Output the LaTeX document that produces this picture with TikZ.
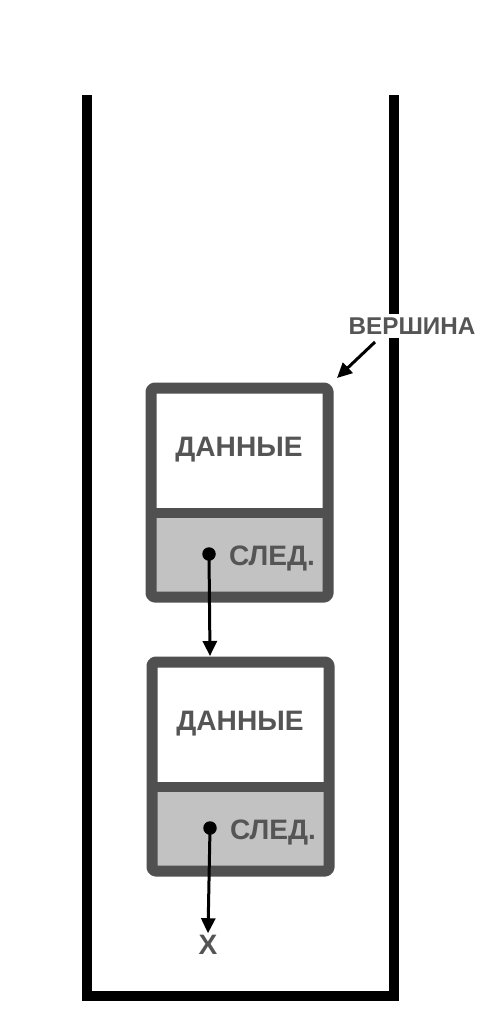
\documentclass[tikz,border=0pt]{standalone}
\usepackage{fontspec}
\usetikzlibrary{arrows.meta}
\setmainfont{Liberation Sans}
\definecolor{rim}{HTML}{505050}
\definecolor{cellgray}{HTML}{C2C2C2}
\definecolor{ink}{HTML}{555555}
\begin{document}
\begin{tikzpicture}[x=0.02cm, y=-0.02cm, line join=round, >={Triangle[length=0.3cm, width=0.28cm]}, font=\bfseries, text=ink]
	\def\w{177}
	\def\h{209}
	\def\d{125}
	\tikzset{lbl/.style={inner sep=1pt, font=\fontsize{16}{18}\selectfont\bfseries},
		link/.style={->, line width=0.06cm},
		cell/.pic={
			\fill[cellgray] (0,\d) rectangle (\w,\h);
			\draw[rim, line width=0.2cm] (0,\d) -- (\w,\d);
			\draw[rim, line width=0.22cm, rounded corners=2pt] (0,0) rectangle (\w,\h);
			\node[lbl] (-data) at (88,62) {ДАННЫЕ};
			\node[lbl] (-next) at (121,170) {СЛЕД.};
			\node[circle, fill=black, inner sep=0pt, minimum size=0.27cm] (-dot) at (58,166) {};
			\coordinate (-top) at (58,-6);
			\coordinate (-corner) at (186,-10);
	}}
	\useasboundingbox (0,0) rectangle (503,1017);
	% stack walls
	\draw[line width=0.2cm, line join=miter] (87,95) -- (87,996) -- (394,996) -- (394,95);
	\pic (c1) at (151,388) {cell};
	\pic (c2) at (152,662) {cell};
	\node[fill=white, inner sep=2pt, font=\fontsize{13.8}{15}\selectfont\bfseries] (top) at (412,326) {ВЕРШИНА};
	\node[lbl] (nil) at (208,945) {X};
	\coordinate (tail) at (375,342);
	\draw[link] (tail) -- (c1-corner);
	\draw[link] (c1-dot.center) -- (c2-top);
	\draw[link] (c2-dot.center) -- (nil.north);
\end{tikzpicture}
\end{document}
